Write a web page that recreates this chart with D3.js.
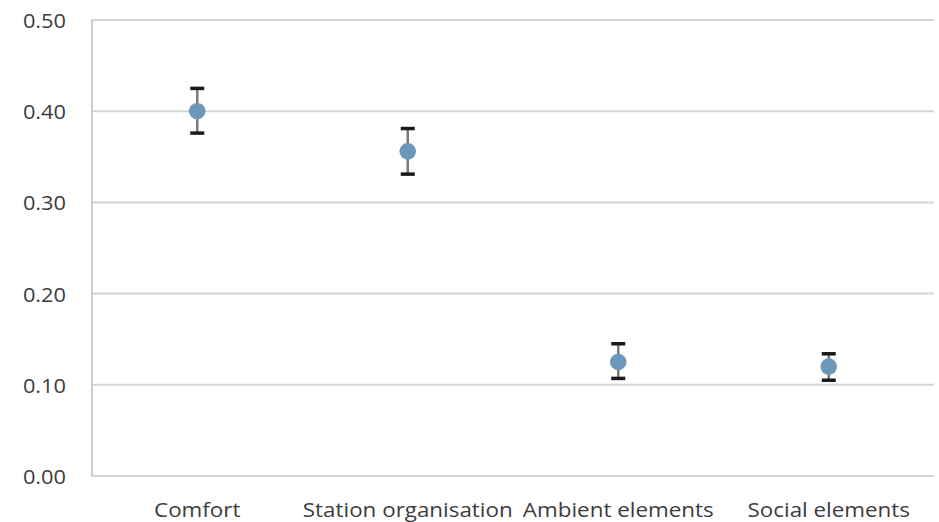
<!DOCTYPE html>
<html>
<head>
<meta charset="utf-8">
<script src="https://cdn.jsdelivr.net/npm/d3@7"></script>
<style>
  html, body { margin: 0; padding: 0; background: #fff; }
  svg text { font-family: "Open Sans", sans-serif; fill: #3c3c3c; }
</style>
</head>
<body>
<svg id="chart" width="939" height="522"></svg>
<script>
// Mean scores per factor with their confidence bounds
const categories = ["Comfort", "Station organisation", "Ambient elements", "Social elements"];
const means = [0.400, 0.356, 0.125, 0.120];
const lower = [0.376, 0.331, 0.107, 0.105];
const upper = [0.425, 0.381, 0.145, 0.134];
const yTicks = [0.0, 0.1, 0.2, 0.3, 0.4, 0.5];

const svg = d3.select("#chart");
const margin = { left: 92, right: 5, top: 20, bottom: 46 };
const W = 939, H = 522;

const x = d3.scaleBand().domain(categories).range([margin.left, W - margin.right]);
const y = d3.scaleLinear().domain([0, 0.5]).range([H - margin.bottom, margin.top]);

const data = categories.map((c, i) => ({ c, m: means[i], lo: lower[i], hi: upper[i] }));

// Horizontal gridlines
svg.append("g")
  .selectAll("line")
  .data(yTicks)
  .join("line")
  .attr("x1", margin.left).attr("x2", W - margin.right)
  .attr("y1", d => y(d)).attr("y2", d => y(d))
  .attr("stroke", "#d4d4d4").attr("stroke-width", 2);

// Left axis line
svg.append("line")
  .attr("x1", margin.left).attr("x2", margin.left)
  .attr("y1", y(0.5)).attr("y2", y(0))
  .attr("stroke", "#cccccc").attr("stroke-width", 2);

// Y axis labels (slightly widened type)
const yAxis = d3.axisLeft(y).tickValues(yTicks).tickFormat(d3.format(".2f")).tickSize(0).tickPadding(0);
const gy = svg.append("g").attr("transform", `translate(${margin.left},0)`).call(yAxis);
gy.select(".domain").remove();
gy.selectAll("text")
  .attr("x", 0).attr("dy", "0.37em")
  .attr("transform", "translate(-26,0) scale(1.09,1)")
  .style("font-size", "20px").style("font-family", "'Open Sans', sans-serif").attr("fill", "#3c3c3c");

// Category labels (slightly widened type)
const xAxis = d3.axisBottom(x).tickSize(0).tickPadding(26.5);
const gx = svg.append("g").attr("transform", `translate(0,${y(0)})`).call(xAxis);
gx.select(".domain").remove();
gx.selectAll("text")
  .attr("transform", "scale(1.12,1)")
  .style("font-size", "20px").style("font-family", "'Open Sans', sans-serif").attr("fill", "#3c3c3c");

const cx = d => x(d.c) + x.bandwidth() / 2;
const capW = 14;

// Error bar stems
svg.append("g").selectAll("line")
  .data(data).join("line")
  .attr("x1", cx).attr("x2", cx)
  .attr("y1", d => y(d.hi)).attr("y2", d => y(d.lo))
  .attr("stroke", "#7a7a7a").attr("stroke-width", 2.5);

// Caps
const caps = svg.append("g");
["hi", "lo"].forEach(k => {
  caps.selectAll("line." + k)
    .data(data).join("line")
    .attr("class", k)
    .attr("x1", d => cx(d) - capW / 2).attr("x2", d => cx(d) + capW / 2)
    .attr("y1", d => y(d[k])).attr("y2", d => y(d[k]))
    .attr("stroke", "#1a1a1a").attr("stroke-width", 3.5);
});

// Mean markers
svg.append("g").selectAll("circle")
  .data(data).join("circle")
  .attr("cx", cx).attr("cy", d => y(d.m))
  .attr("r", 8.3)
  .attr("fill", "#6b98b8");
</script>
</body>
</html>
